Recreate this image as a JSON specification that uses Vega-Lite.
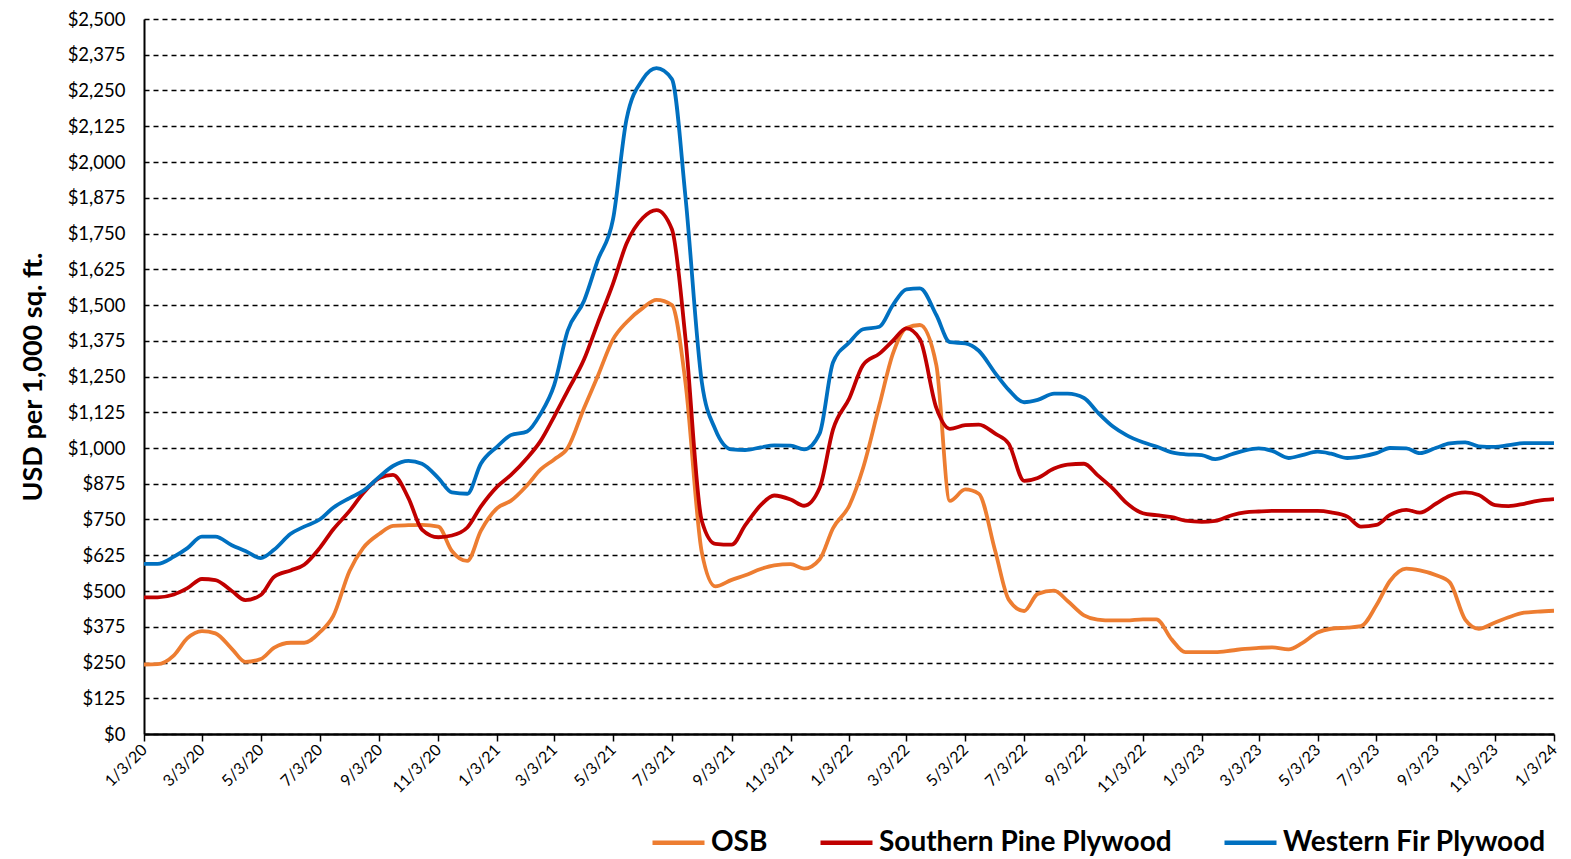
{
  "$schema": "https://vega.github.io/schema/vega-lite/v6.json",
  "autosize": "none",
  "width": 1410,
  "height": 715,
  "padding": {"left": 144, "top": 19, "right": 17, "bottom": 125},
  "background": "white",
  "config": {
    "view": {"stroke": null},
    "font": "Lato"
  },
  "data": {
    "values": [
      {"date": "2020-01-03", "OSB": 243, "Southern Pine Plywood": 478, "Western Fir Plywood": 595},
      {"date": "2020-01-17", "OSB": 244, "Southern Pine Plywood": 478, "Western Fir Plywood": 595},
      {"date": "2020-02-03", "OSB": 275, "Southern Pine Plywood": 488, "Western Fir Plywood": 620},
      {"date": "2020-02-17", "OSB": 335, "Southern Pine Plywood": 510, "Western Fir Plywood": 650},
      {"date": "2020-03-03", "OSB": 360, "Southern Pine Plywood": 542, "Western Fir Plywood": 690},
      {"date": "2020-03-17", "OSB": 352, "Southern Pine Plywood": 538, "Western Fir Plywood": 690},
      {"date": "2020-04-03", "OSB": 298, "Southern Pine Plywood": 500, "Western Fir Plywood": 660},
      {"date": "2020-04-17", "OSB": 252, "Southern Pine Plywood": 468, "Western Fir Plywood": 640},
      {"date": "2020-05-03", "OSB": 262, "Southern Pine Plywood": 486, "Western Fir Plywood": 615},
      {"date": "2020-05-17", "OSB": 302, "Southern Pine Plywood": 550, "Western Fir Plywood": 645},
      {"date": "2020-06-03", "OSB": 319, "Southern Pine Plywood": 572, "Western Fir Plywood": 700},
      {"date": "2020-06-17", "OSB": 319, "Southern Pine Plywood": 592, "Western Fir Plywood": 725},
      {"date": "2020-07-03", "OSB": 355, "Southern Pine Plywood": 650, "Western Fir Plywood": 750},
      {"date": "2020-07-17", "OSB": 412, "Southern Pine Plywood": 715, "Western Fir Plywood": 791},
      {"date": "2020-08-03", "OSB": 570, "Southern Pine Plywood": 780, "Western Fir Plywood": 825},
      {"date": "2020-08-17", "OSB": 650, "Southern Pine Plywood": 842, "Western Fir Plywood": 850},
      {"date": "2020-09-03", "OSB": 700, "Southern Pine Plywood": 895, "Western Fir Plywood": 900},
      {"date": "2020-09-17", "OSB": 728, "Southern Pine Plywood": 906, "Western Fir Plywood": 937},
      {"date": "2020-10-03", "OSB": 730, "Southern Pine Plywood": 825, "Western Fir Plywood": 955},
      {"date": "2020-10-17", "OSB": 731, "Southern Pine Plywood": 715, "Western Fir Plywood": 945},
      {"date": "2020-11-03", "OSB": 725, "Southern Pine Plywood": 688, "Western Fir Plywood": 895},
      {"date": "2020-11-17", "OSB": 640, "Southern Pine Plywood": 694, "Western Fir Plywood": 845},
      {"date": "2020-12-03", "OSB": 605, "Southern Pine Plywood": 722, "Western Fir Plywood": 840},
      {"date": "2020-12-17", "OSB": 710, "Southern Pine Plywood": 795, "Western Fir Plywood": 945},
      {"date": "2021-01-03", "OSB": 790, "Southern Pine Plywood": 865, "Western Fir Plywood": 1005},
      {"date": "2021-01-17", "OSB": 815, "Southern Pine Plywood": 905, "Western Fir Plywood": 1045},
      {"date": "2021-02-03", "OSB": 870, "Southern Pine Plywood": 965, "Western Fir Plywood": 1058},
      {"date": "2021-02-17", "OSB": 925, "Southern Pine Plywood": 1025, "Western Fir Plywood": 1120},
      {"date": "2021-03-03", "OSB": 960, "Southern Pine Plywood": 1110, "Western Fir Plywood": 1220},
      {"date": "2021-03-17", "OSB": 1000, "Southern Pine Plywood": 1200, "Western Fir Plywood": 1410},
      {"date": "2021-04-03", "OSB": 1140, "Southern Pine Plywood": 1310, "Western Fir Plywood": 1515},
      {"date": "2021-04-17", "OSB": 1250, "Southern Pine Plywood": 1435, "Western Fir Plywood": 1655},
      {"date": "2021-05-03", "OSB": 1380, "Southern Pine Plywood": 1575, "Western Fir Plywood": 1800},
      {"date": "2021-05-17", "OSB": 1440, "Southern Pine Plywood": 1715, "Western Fir Plywood": 2150},
      {"date": "2021-06-03", "OSB": 1490, "Southern Pine Plywood": 1805, "Western Fir Plywood": 2290},
      {"date": "2021-06-17", "OSB": 1518, "Southern Pine Plywood": 1832, "Western Fir Plywood": 2328},
      {"date": "2021-07-03", "OSB": 1500, "Southern Pine Plywood": 1765, "Western Fir Plywood": 2290},
      {"date": "2021-07-17", "OSB": 1230, "Southern Pine Plywood": 1385, "Western Fir Plywood": 1880},
      {"date": "2021-08-03", "OSB": 635, "Southern Pine Plywood": 745, "Western Fir Plywood": 1230},
      {"date": "2021-08-17", "OSB": 516, "Southern Pine Plywood": 665, "Western Fir Plywood": 1065},
      {"date": "2021-09-03", "OSB": 539, "Southern Pine Plywood": 662, "Western Fir Plywood": 995},
      {"date": "2021-09-17", "OSB": 555, "Southern Pine Plywood": 730, "Western Fir Plywood": 993},
      {"date": "2021-10-03", "OSB": 577, "Southern Pine Plywood": 800, "Western Fir Plywood": 1002},
      {"date": "2021-10-17", "OSB": 590, "Southern Pine Plywood": 834, "Western Fir Plywood": 1009},
      {"date": "2021-11-03", "OSB": 594, "Southern Pine Plywood": 820, "Western Fir Plywood": 1008},
      {"date": "2021-11-17", "OSB": 578, "Southern Pine Plywood": 798, "Western Fir Plywood": 995},
      {"date": "2021-12-03", "OSB": 610, "Southern Pine Plywood": 860, "Western Fir Plywood": 1050},
      {"date": "2021-12-17", "OSB": 720, "Southern Pine Plywood": 1065, "Western Fir Plywood": 1300},
      {"date": "2022-01-03", "OSB": 800, "Southern Pine Plywood": 1175, "Western Fir Plywood": 1370},
      {"date": "2022-01-17", "OSB": 929, "Southern Pine Plywood": 1290, "Western Fir Plywood": 1415},
      {"date": "2022-02-03", "OSB": 1150, "Southern Pine Plywood": 1330, "Western Fir Plywood": 1424},
      {"date": "2022-02-17", "OSB": 1330, "Southern Pine Plywood": 1375, "Western Fir Plywood": 1500},
      {"date": "2022-03-03", "OSB": 1420, "Southern Pine Plywood": 1418, "Western Fir Plywood": 1555},
      {"date": "2022-03-17", "OSB": 1430, "Southern Pine Plywood": 1380, "Western Fir Plywood": 1558},
      {"date": "2022-04-03", "OSB": 1290, "Southern Pine Plywood": 1140, "Western Fir Plywood": 1465},
      {"date": "2022-04-17", "OSB": 815, "Southern Pine Plywood": 1067, "Western Fir Plywood": 1370},
      {"date": "2022-05-03", "OSB": 855, "Southern Pine Plywood": 1080, "Western Fir Plywood": 1366},
      {"date": "2022-05-17", "OSB": 840, "Southern Pine Plywood": 1082, "Western Fir Plywood": 1340},
      {"date": "2022-06-03", "OSB": 640, "Southern Pine Plywood": 1050, "Western Fir Plywood": 1262},
      {"date": "2022-06-17", "OSB": 470, "Southern Pine Plywood": 1015, "Western Fir Plywood": 1203},
      {"date": "2022-07-03", "OSB": 430, "Southern Pine Plywood": 885, "Western Fir Plywood": 1160},
      {"date": "2022-07-17", "OSB": 490, "Southern Pine Plywood": 895, "Western Fir Plywood": 1168},
      {"date": "2022-08-03", "OSB": 501, "Southern Pine Plywood": 928, "Western Fir Plywood": 1190},
      {"date": "2022-08-17", "OSB": 465, "Southern Pine Plywood": 942, "Western Fir Plywood": 1190},
      {"date": "2022-09-03", "OSB": 415, "Southern Pine Plywood": 945, "Western Fir Plywood": 1175},
      {"date": "2022-09-17", "OSB": 400, "Southern Pine Plywood": 905, "Western Fir Plywood": 1125},
      {"date": "2022-10-03", "OSB": 397, "Southern Pine Plywood": 858, "Western Fir Plywood": 1075},
      {"date": "2022-10-17", "OSB": 397, "Southern Pine Plywood": 808, "Western Fir Plywood": 1045},
      {"date": "2022-11-03", "OSB": 401, "Southern Pine Plywood": 772, "Western Fir Plywood": 1020},
      {"date": "2022-11-17", "OSB": 401, "Southern Pine Plywood": 765, "Western Fir Plywood": 1005},
      {"date": "2022-12-03", "OSB": 330, "Southern Pine Plywood": 758, "Western Fir Plywood": 985},
      {"date": "2022-12-17", "OSB": 286, "Southern Pine Plywood": 746, "Western Fir Plywood": 978},
      {"date": "2023-01-03", "OSB": 286, "Southern Pine Plywood": 742, "Western Fir Plywood": 975},
      {"date": "2023-01-17", "OSB": 286, "Southern Pine Plywood": 745, "Western Fir Plywood": 961},
      {"date": "2023-02-03", "OSB": 292, "Southern Pine Plywood": 765, "Western Fir Plywood": 978},
      {"date": "2023-02-17", "OSB": 298, "Southern Pine Plywood": 775, "Western Fir Plywood": 992},
      {"date": "2023-03-03", "OSB": 301, "Southern Pine Plywood": 778, "Western Fir Plywood": 999},
      {"date": "2023-03-17", "OSB": 303, "Southern Pine Plywood": 780, "Western Fir Plywood": 990},
      {"date": "2023-04-03", "OSB": 296, "Southern Pine Plywood": 780, "Western Fir Plywood": 965},
      {"date": "2023-04-17", "OSB": 318, "Southern Pine Plywood": 780, "Western Fir Plywood": 975},
      {"date": "2023-05-03", "OSB": 355, "Southern Pine Plywood": 780, "Western Fir Plywood": 987},
      {"date": "2023-05-17", "OSB": 368, "Southern Pine Plywood": 775, "Western Fir Plywood": 980},
      {"date": "2023-06-03", "OSB": 372, "Southern Pine Plywood": 760, "Western Fir Plywood": 965},
      {"date": "2023-06-17", "OSB": 377, "Southern Pine Plywood": 725, "Western Fir Plywood": 970},
      {"date": "2023-07-03", "OSB": 450, "Southern Pine Plywood": 731, "Western Fir Plywood": 982},
      {"date": "2023-07-17", "OSB": 535, "Southern Pine Plywood": 766, "Western Fir Plywood": 1000},
      {"date": "2023-08-03", "OSB": 578, "Southern Pine Plywood": 784, "Western Fir Plywood": 999},
      {"date": "2023-08-17", "OSB": 572, "Southern Pine Plywood": 774, "Western Fir Plywood": 982},
      {"date": "2023-09-03", "OSB": 555, "Southern Pine Plywood": 806, "Western Fir Plywood": 1001},
      {"date": "2023-09-17", "OSB": 530, "Southern Pine Plywood": 833, "Western Fir Plywood": 1016},
      {"date": "2023-10-03", "OSB": 400, "Southern Pine Plywood": 845, "Western Fir Plywood": 1020},
      {"date": "2023-10-17", "OSB": 368, "Southern Pine Plywood": 836, "Western Fir Plywood": 1006},
      {"date": "2023-11-03", "OSB": 390, "Southern Pine Plywood": 800, "Western Fir Plywood": 1004},
      {"date": "2023-11-17", "OSB": 408, "Southern Pine Plywood": 797, "Western Fir Plywood": 1010},
      {"date": "2023-12-03", "OSB": 424, "Southern Pine Plywood": 805, "Western Fir Plywood": 1017},
      {"date": "2023-12-17", "OSB": 428, "Southern Pine Plywood": 815, "Western Fir Plywood": 1017},
      {"date": "2024-01-03", "OSB": 431, "Southern Pine Plywood": 821, "Western Fir Plywood": 1017}
    ]
  },
  "transform": [
    {"fold": ["OSB", "Southern Pine Plywood", "Western Fir Plywood"], "as": ["series", "price"]}
  ],
  "mark": {"type": "line", "strokeWidth": 3.8, "interpolate": "monotone", "clip": true},
  "encoding": {
    "x": {
      "field": "date",
      "type": "temporal",
      "scale": {
        "type": "utc",
        "domain": [
          {"year": 2020, "month": 1, "date": 3, "utc": true},
          {"year": 2024, "month": 1, "date": 3, "utc": true}
        ]
      },
      "axis": {
        "title": null,
        "grid": false,
        "values": [
          {"year": 2020, "month": 1, "date": 3, "utc": true},
          {"year": 2020, "month": 3, "date": 3, "utc": true},
          {"year": 2020, "month": 5, "date": 3, "utc": true},
          {"year": 2020, "month": 7, "date": 3, "utc": true},
          {"year": 2020, "month": 9, "date": 3, "utc": true},
          {"year": 2020, "month": 11, "date": 3, "utc": true},
          {"year": 2021, "month": 1, "date": 3, "utc": true},
          {"year": 2021, "month": 3, "date": 3, "utc": true},
          {"year": 2021, "month": 5, "date": 3, "utc": true},
          {"year": 2021, "month": 7, "date": 3, "utc": true},
          {"year": 2021, "month": 9, "date": 3, "utc": true},
          {"year": 2021, "month": 11, "date": 3, "utc": true},
          {"year": 2022, "month": 1, "date": 3, "utc": true},
          {"year": 2022, "month": 3, "date": 3, "utc": true},
          {"year": 2022, "month": 5, "date": 3, "utc": true},
          {"year": 2022, "month": 7, "date": 3, "utc": true},
          {"year": 2022, "month": 9, "date": 3, "utc": true},
          {"year": 2022, "month": 11, "date": 3, "utc": true},
          {"year": 2023, "month": 1, "date": 3, "utc": true},
          {"year": 2023, "month": 3, "date": 3, "utc": true},
          {"year": 2023, "month": 5, "date": 3, "utc": true},
          {"year": 2023, "month": 7, "date": 3, "utc": true},
          {"year": 2023, "month": 9, "date": 3, "utc": true},
          {"year": 2023, "month": 11, "date": 3, "utc": true},
          {"year": 2024, "month": 1, "date": 3, "utc": true}
        ],
        "labelExpr": "utcFormat(datum.value, '%-m/%-d/%y')",
        "labelAngle": -45,
        "labelAlign": "right",
        "labelBaseline": "middle",
        "labelFontSize": 16,
        "labelColor": "#000000",
        "labelPadding": 6,
        "labelOverlap": false,
        "labelFlush": false,
        "domainColor": "#000000",
        "domainWidth": 2.5,
        "tickColor": "#000000",
        "tickWidth": 1.5,
        "tickSize": 7
      }
    },
    "y": {
      "field": "price",
      "type": "quantitative",
      "scale": {"domain": [0, 2500], "nice": false},
      "axis": {
        "title": "USD per 1,000 sq. ft.",
        "titleFontSize": 27,
        "titleFontWeight": "bold",
        "titleColor": "#000000",
        "titlePadding": 20,
        "values": [0, 125, 250, 375, 500, 625, 750, 875, 1000, 1125, 1250, 1375, 1500, 1625, 1750, 1875, 2000, 2125, 2250, 2375, 2500],
        "format": "$,.0f",
        "labelFontSize": 18.5,
        "labelColor": "#000000",
        "labelPadding": 19,
        "ticks": false,
        "grid": true,
        "gridColor": "#000000",
        "gridDash": [5, 4],
        "gridWidth": 1.3,
        "domainColor": "#000000",
        "domainWidth": 2
      }
    },
    "color": {
      "field": "series",
      "type": "nominal",
      "scale": {
        "domain": ["OSB", "Southern Pine Plywood", "Western Fir Plywood"],
        "range": ["#ED7D31", "#C00000", "#0070C0"]
      },
      "legend": {
        "title": null,
        "orient": "none",
        "direction": "horizontal",
        "legendX": 506,
        "legendY": 795,
        "symbolType": "stroke",
        "symbolSize": 2704,
        "symbolStrokeWidth": 4.5,
        "labelFontSize": 28,
        "labelFontWeight": "bold",
        "labelColor": "#000000",
        "labelLimit": 0,
        "labelOffset": 4,
        "columnPadding": 43
      }
    }
  }
}
